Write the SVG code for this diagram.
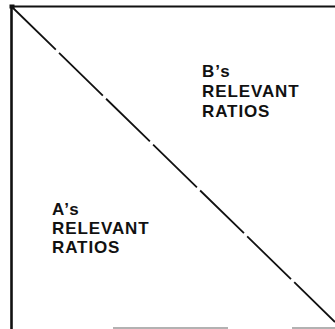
<svg xmlns="http://www.w3.org/2000/svg" width="335" height="329" viewBox="0 0 335 329">
<style>
.lbl{font-family:"Liberation Sans",Arial,sans-serif;font-weight:bold;font-size:17px;letter-spacing:0.9px;fill:#111}
.frame{stroke:#111;fill:none}
</style>
<rect width="335" height="329" fill="#fff"/>
<g id="frame">
<line class="frame" x1="11.5" y1="5" x2="11.5" y2="329" stroke-width="2.6"/>
<line class="frame" x1="10" y1="6.5" x2="335" y2="6.5" stroke-width="2.2"/>
<rect x="9.5" y="4.5" width="5" height="4" fill="#111"/>
<line x1="113" y1="328" x2="228" y2="328" stroke="#999" stroke-width="1.4"/>
<line x1="292" y1="328" x2="335" y2="328" stroke="#999" stroke-width="1.4"/>
</g>
<g id="connectors">
<line x1="12" y1="7" x2="335" y2="322" stroke="#111" stroke-width="1.8" stroke-dasharray="61.2 4.5"/>
</g>
<g id="b-ratios">
<text class="lbl" x="202" y="77">B’s</text>
<text class="lbl" x="202" y="97">RELEVANT</text>
<text class="lbl" x="202" y="117">RATIOS</text>
</g>
<g id="a-ratios">
<text class="lbl" x="52" y="215">A’s</text>
<text class="lbl" x="52" y="234">RELEVANT</text>
<text class="lbl" x="52" y="253">RATIOS</text>
</g>
</svg>
